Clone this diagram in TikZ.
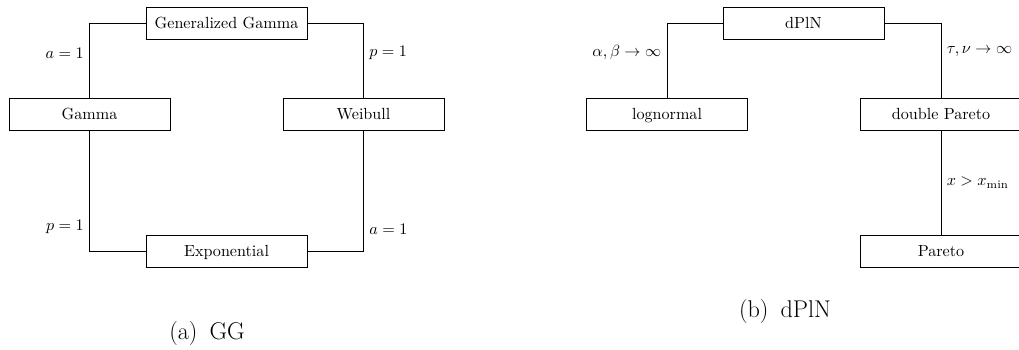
\documentclass[tikz,border=0pt]{standalone}
\begin{document}
\begin{tikzpicture}[x=0.62pt,y=-0.62pt,
  distbox/.style={draw,line width=0.5pt,minimum width=99.8pt,minimum height=19.8pt,inner sep=0pt,text height=8.6pt,text depth=1.5pt,font=\fontsize{10}{12}\selectfont},
  link/.style={line width=0.5pt},
  lbl/.style={font=\fontsize{10}{12}\selectfont},
  captext/.style={font=\fontsize{15}{18}\selectfont,inner sep=0pt}]
\useasboundingbox (0,0) rectangle (1019,349);
% (a) GG
\node[distbox] (gg) at (226.5,23) {Generalized Gamma};
\node[distbox] (gamma) at (89.5,114) {Gamma};
\node[distbox] (weib) at (363.5,114) {Weibull};
\node[distbox] (expo) at (226.5,251) {Exponential};
\draw[link] (gg.west) -| (gamma.north) node[lbl,pos=0.7,left] {$a=1$};
\draw[link] (gg.east) -| (weib.north) node[lbl,pos=0.7,right] {$p=1$};
\draw[link] (gamma.south) |- (expo.west) node[lbl,pos=0.4,left] {$p=1$};
\draw[link] (weib.south) |- (expo.east) node[lbl,pos=0.41,right] {$a=1$};
\node[captext] (capa) at (207,333) {(a)\enspace GG};
% (b) dPlN
\node[distbox] (dpln) at (803.5,23) {dPlN};
\node[distbox] (logn) at (667,114) {lognormal};
\node[distbox] (dpar) at (941,114) {double Pareto};
\node[distbox] (par) at (941,251) {Pareto};
\draw[link] (dpln.west) -| (logn.north) node[lbl,pos=0.7,left] {$\alpha,\beta\to\infty$};
\draw[link] (dpln.east) -| (dpar.north) node[lbl,pos=0.69,right] {$\tau,\nu\to\infty$};
\draw[link] (dpar.south) -- (par.north) node[lbl,pos=0.5,right] {$x>x_{\min}$};
\node[captext] (capb) at (785,311) {(b)\enspace dPlN};
\end{tikzpicture}
\end{document}
